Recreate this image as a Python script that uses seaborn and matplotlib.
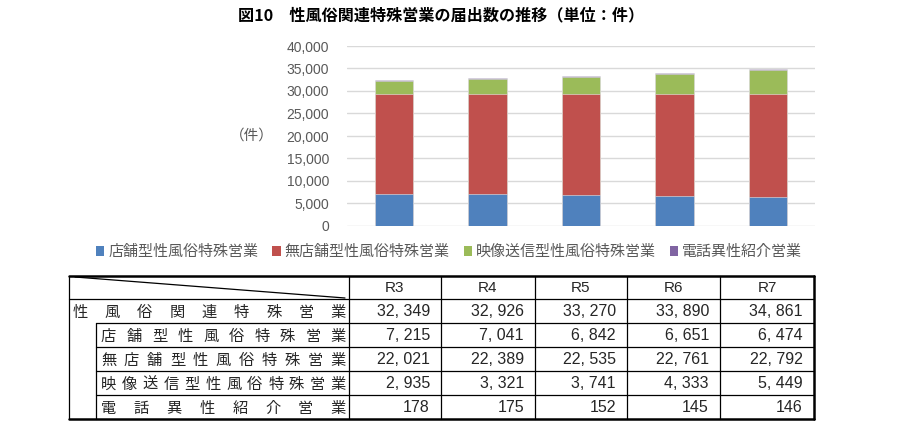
import matplotlib
matplotlib.use("Agg")
import matplotlib.pyplot as plt
import seaborn as sns
import pandas as pd
from matplotlib.patches import Patch

years = ["R3", "R4", "R5", "R6", "R7"]
series_names = ["店舗型性風俗特殊営業", "無店舗型性風俗特殊営業",
                "映像送信型性風俗特殊営業", "電話異性紹介営業"]
tenpo = [7215, 7041, 6842, 6651, 6474]
mutenpo = [22021, 22389, 22535, 22761, 22792]
eizo = [2935, 3321, 3741, 4333, 5449]
denwa = [178, 175, 152, 145, 146]
totals = [32349, 32926, 33270, 33890, 34861]
yticks = [0, 5000, 10000, 15000, 20000, 25000, 30000, 35000, 40000]
colors = ["#4F81BD", "#C0504D", "#9BBB59", "#8064A2"]

sns.set_style("white")
plt.rcParams["font.family"] = ["Noto Sans CJK JP", "DejaVu Sans"]

W, H = 903, 442
fig = plt.figure(figsize=(W / 100, H / 100), dpi=100)

# stacked bars: draw cumulative sums from the top segment down
parts = [tenpo, mutenpo, eizo, denwa]
cum = []
run = [0] * len(years)
for p in parts:
    run = [a + b for a, b in zip(run, p)]
    cum.append(run)
df = pd.DataFrame({"year": years})
for i, c in enumerate(cum):
    df[f"c{i}"] = c

ax = fig.add_axes([347 / W, 1 - 226 / H, (815 - 347) / W, (226 - 46) / H])
for i in range(3, -1, -1):
    sns.barplot(data=df, x="year", y=f"c{i}", color=colors[i], width=0.41,
                edgecolor="#E8E8E8", linewidth=0.4, saturation=1, ax=ax, zorder=3)
num_font = ["Liberation Sans", "DejaVu Sans"]
ax.set_ylim(0, 40000)
ax.set_yticks(yticks)
ax.set_yticklabels([f"{v:,}" for v in yticks], family=num_font,
                   fontsize=10, color="#595959")
ax.set_xticks([])
ax.set_xlabel("")
ax.set_ylabel("")
ax.grid(axis="y", color="#D9D9D9", linewidth=1, zorder=0)
ax.tick_params(axis="y", length=0, pad=13)
for s in ax.spines.values():
    s.set_visible(False)

handles = [Patch(facecolor=c, edgecolor="none") for c in colors]
fig.legend(handles, series_names, loc="center", bbox_to_anchor=(449 / W, 1 - 252 / H),
           ncol=4, frameon=False, fontsize=10.8, handlelength=0.55, handleheight=0.6,
           handletextpad=0.25, columnspacing=0.95, labelcolor="#595959")

# overlay in pixel coordinates for title, unit label and table
ov = fig.add_axes([0, 0, 1, 1])
ov.set_xlim(0, W)
ov.set_ylim(H, 0)
ov.axis("off")
ov.patch.set_alpha(0)

ov.text(441, 15, "図10　性風俗関連特殊営業の届出数の推移（単位：件）", ha="center", va="center",
        fontsize=11.6, fontweight="bold", color="black")
ov.text(252, 136, "（件）", ha="center", va="center", fontsize=10.5, color="#595959")

col_x = [69, 349, 441, 535, 627, 720, 814]
row_y = [276, 299, 323, 347, 371, 395, 419]
indent = 96
thin, thick = 0.9, 1.8

# borders
ov.plot([col_x[0], col_x[-1]], [row_y[0], row_y[0]], color="black", lw=thick)
ov.plot([col_x[0], col_x[-1]], [row_y[-1], row_y[-1]], color="black", lw=thick)
ov.plot([col_x[0], col_x[0]], [row_y[0], row_y[-1]], color="black", lw=thin)
ov.plot([col_x[-1], col_x[-1]], [row_y[0], row_y[-1]], color="black", lw=thick)
ov.plot([col_x[0], col_x[-1]], [row_y[1], row_y[1]], color="black", lw=thin)
for y in row_y[2:-1]:
    ov.plot([indent, col_x[-1]], [y, y], color="black", lw=thin)
ov.plot([indent, indent], [row_y[2], row_y[-1]], color="black", lw=thin)
for x in col_x[1:-1]:
    ov.plot([x, x], [row_y[0], row_y[-1]], color="black", lw=thin)
ov.plot([75, 345], [277, 298], color="black", lw=thin)

for j, yr in enumerate(years):
    ov.text((col_x[j + 1] + col_x[j + 2]) / 2, (row_y[0] + row_y[1]) / 2 + 1, yr,
            ha="center", va="center", fontsize=11, family=num_font)

row_labels = ["性風俗関連特殊営業"] + series_names
row_values = [totals] + parts
for r, (lab, vals) in enumerate(zip(row_labels, row_values)):
    yc = (row_y[r + 1] + row_y[r + 2]) / 2 + 1
    x0 = 80 if r == 0 else 108.5
    x1 = 338.5
    n = len(lab)
    step = (x1 - x0) / (n - 1)
    for k, ch in enumerate(lab):
        ov.text(x0 + k * step, yc, ch, ha="center", va="center", fontsize=11)
    for j, v in enumerate(vals):
        ov.text(col_x[j + 2] - 11, yc, f"{v:,}".replace(",", ", "), ha="right",
                va="center", fontsize=11.5, family=num_font)

fig.savefig("out.png", dpi=100)
